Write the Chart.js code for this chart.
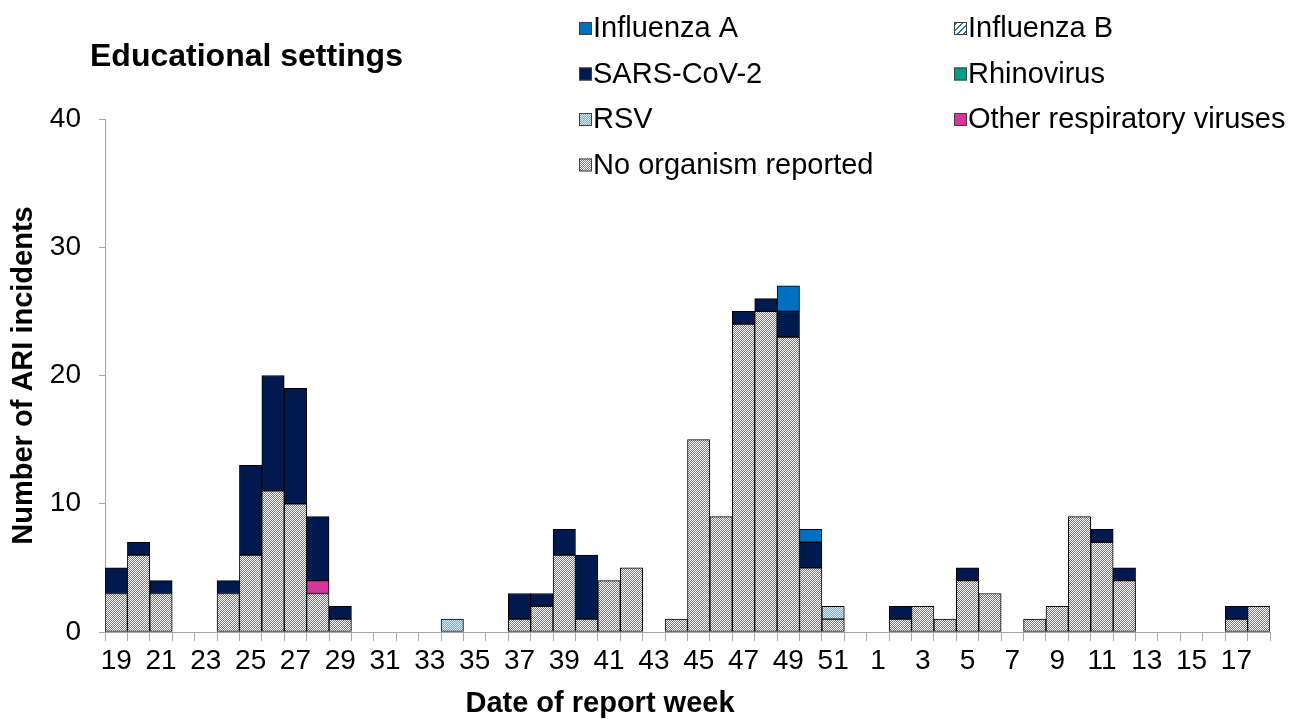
<!DOCTYPE html>
<html>
<head>
<meta charset="utf-8">
<script src="https://cdn.jsdelivr.net/npm/chart.js@4.4.1/dist/chart.umd.min.js"></script>
<style>
  html, body { margin: 0; padding: 0; background: #fff; }
  #wrap { width: 1293px; height: 719px; position: relative; }
</style>
</head>
<body>
<div id="wrap"><canvas id="ariChart"></canvas></div>
<script>
// report weeks: 19..52 then 1..18
const weeks = ["19","20","21","22","23","24","25","26","27","28","29","30","31","32","33","34","35","36",
  "37","38","39","40","41","42","43","44","45","46","47","48","49","50","51","52",
  "1","2","3","4","5","6","7","8","9","10","11","12","13","14","15","16","17","18"];

const noOrganism = [3,6,3,0,0,3,6,11,10,3,1,0,0,0,0,0,0,0,
  1,2,6,1,4,5,0,1,15,9,24,25,23,5,1,0,
  0,1,2,1,4,3,0,1,2,9,7,4,0,0,0,0,1,2];
const rsv = [0,0,0,0,0,0,0,0,0,0,0,0,0,0,0,1,0,0,
  0,0,0,0,0,0,0,0,0,0,0,0,0,0,1,0,
  0,0,0,0,0,0,0,0,0,0,0,0,0,0,0,0,0,0];
const otherViruses = [0,0,0,0,0,0,0,0,0,1,0,0,0,0,0,0,0,0,
  0,0,0,0,0,0,0,0,0,0,0,0,0,0,0,0,
  0,0,0,0,0,0,0,0,0,0,0,0,0,0,0,0,0,0];
const rhinovirus = new Array(52).fill(0);
const sarsCov2 = [2,1,1,0,0,1,7,9,9,5,1,0,0,0,0,0,0,0,
  2,1,2,5,0,0,0,0,0,0,1,1,2,2,0,0,
  0,1,0,0,1,0,0,0,0,0,1,1,0,0,0,0,1,0];
const influenzaB = new Array(52).fill(0);
const influenzaA = [0,0,0,0,0,0,0,0,0,0,0,0,0,0,0,0,0,0,
  0,0,0,0,0,0,0,0,0,0,0,0,2,1,0,0,
  0,0,0,0,0,0,0,0,0,0,0,0,0,0,0,0,0,0];

const yTicks = [0, 10, 20, 30, 40];

// small pattern fills like the excel ones
function makeChecker(color, bg) {
  const c = document.createElement("canvas");
  c.width = 4; c.height = 4;
  const g = c.getContext("2d");
  g.fillStyle = bg;
  g.fillRect(0, 0, 4, 4);
  g.fillStyle = color;
  [[1,0],[0,1],[2,1],[1,2],[3,2],[2,3],[0,3],[3,0]].forEach(p => g.fillRect(p[0], p[1], 1, 1));
  return g.createPattern(c, "repeat");
}
function makeStripes(color) {
  const c = document.createElement("canvas");
  c.width = 6; c.height = 6;
  const g = c.getContext("2d");
  g.fillStyle = "#fff";
  g.fillRect(0, 0, 6, 6);
  g.fillStyle = color;
  for (let i = 0; i < 6; i++) {
    g.fillRect((6 - i) % 6, i, 2, 1);
    g.fillRect((7 - i) % 6, i, 1, 1);
  }
  return g.createPattern(c, "repeat");
}

const greyChecker = makeChecker("#7a7a7a", "#ffffff");
const blueChecker = makeChecker("#4ab6ea", "#d2eefb");
const blueStripes = makeStripes("#1f78c8");

const nz = arr => arr.map(v => (v === 0 ? null : v));

function barSet(label, data, fill) {
  return {
    label: label,
    data: nz(data),
    backgroundColor: fill,
    borderColor: "#000",
    borderWidth: 1,
    borderSkipped: false,
    categoryPercentage: 1.0,
    barPercentage: 1.0,
  };
}

const datasets = [
  barSet("No organism reported", noOrganism, greyChecker),
  barSet("RSV", rsv, blueChecker),
  barSet("Other respiratory viruses", otherViruses, "#d6369e"),
  barSet("Rhinovirus", rhinovirus, "#00a084"),
  barSet("SARS-CoV-2", sarsCov2, "#001a4f"),
  barSet("Influenza B", influenzaB, blueStripes),
  barSet("Influenza A", influenzaA, "#0070c0"),
];

// legend laid out in two columns like the original
const legendLayout = [
  { label: "Influenza A", col: 0, row: 0 },
  { label: "Influenza B", col: 1, row: 0 },
  { label: "SARS-CoV-2", col: 0, row: 1 },
  { label: "Rhinovirus", col: 1, row: 1 },
  { label: "RSV", col: 0, row: 2 },
  { label: "Other respiratory viruses", col: 1, row: 2 },
  { label: "No organism reported", col: 0, row: 3 },
];

const FONT = "'Liberation Sans', Arial, sans-serif";

const overlayPlugin = {
  id: "overlay",
  afterDraw(chart) {
    const ctx = chart.ctx;
    ctx.save();
    ctx.fillStyle = "#000";
    ctx.textBaseline = "middle";
    // heading
    ctx.font = "bold 32px " + FONT;
    ctx.textAlign = "left";
    ctx.fillText("Educational settings", 90, 57);
    // x axis title sits left of centre in the original
    ctx.font = "bold 29px " + FONT;
    ctx.textAlign = "center";
    ctx.fillText("Date of report week", 600, 704);
    // legend
    ctx.textAlign = "left";
    ctx.font = "29px " + FONT;
    const colX = [579, 954];
    legendLayout.forEach(item => {
      const ds = chart.data.datasets.find(d => d.label === item.label);
      const x = colX[item.col];
      const y = 28 + item.row * 45.5;
      ctx.fillStyle = ds.backgroundColor;
      ctx.fillRect(x, y - 6, 13, 13);
      ctx.strokeStyle = "#404040";
      ctx.lineWidth = 1;
      ctx.strokeRect(x + 0.5, y - 5.5, 12, 12);
      ctx.fillStyle = "#000";
      ctx.fillText(item.label, x + 14, y + 1);
    });
    ctx.restore();
  },
};

const axisGrey = "#a6a6a6";

new Chart(document.getElementById("ariChart"), {
  type: "bar",
  data: { labels: weeks, datasets: datasets },
  options: {
    responsive: true,
    maintainAspectRatio: false,
    animation: false,
    layout: { padding: { top: 119, right: 23, bottom: 0, left: 0 } },
    plugins: {
      legend: { display: false },
      tooltip: { enabled: false },
    },
    scales: {
      x: {
        stacked: true,
        grid: { display: true, drawOnChartArea: false, color: axisGrey, tickLength: 9, offset: true },
        border: { color: axisGrey },
        ticks: {
          autoSkip: false,
          maxRotation: 0,
          padding: 3,
          color: "#000",
          font: { family: FONT, size: 28 },
          callback: function (val, idx) {
            return idx % 2 === 0 ? this.getLabelForValue(val) : "";
          },
        },
        afterFit: s => { s.height = 87; },
      },
      y: {
        stacked: true,
        min: yTicks[0],
        max: yTicks[yTicks.length - 1],
        afterBuildTicks: s => { s.ticks = yTicks.map(v => ({ value: v })); },
        grid: { display: true, drawOnChartArea: false, color: axisGrey, tickLength: 6 },
        border: { color: axisGrey },
        ticks: {
          padding: 18,
          color: "#000",
          font: { family: FONT, size: 28 },
        },
        title: {
          display: true,
          text: "Number of ARI incidents",
          color: "#000",
          font: { family: FONT, size: 29, weight: "bold" },
          padding: { top: 7, bottom: 0 },
        },
        afterFit: s => { s.width = 105; },
      },
    },
  },
  plugins: [overlayPlugin],
});
</script>
</body>
</html>
